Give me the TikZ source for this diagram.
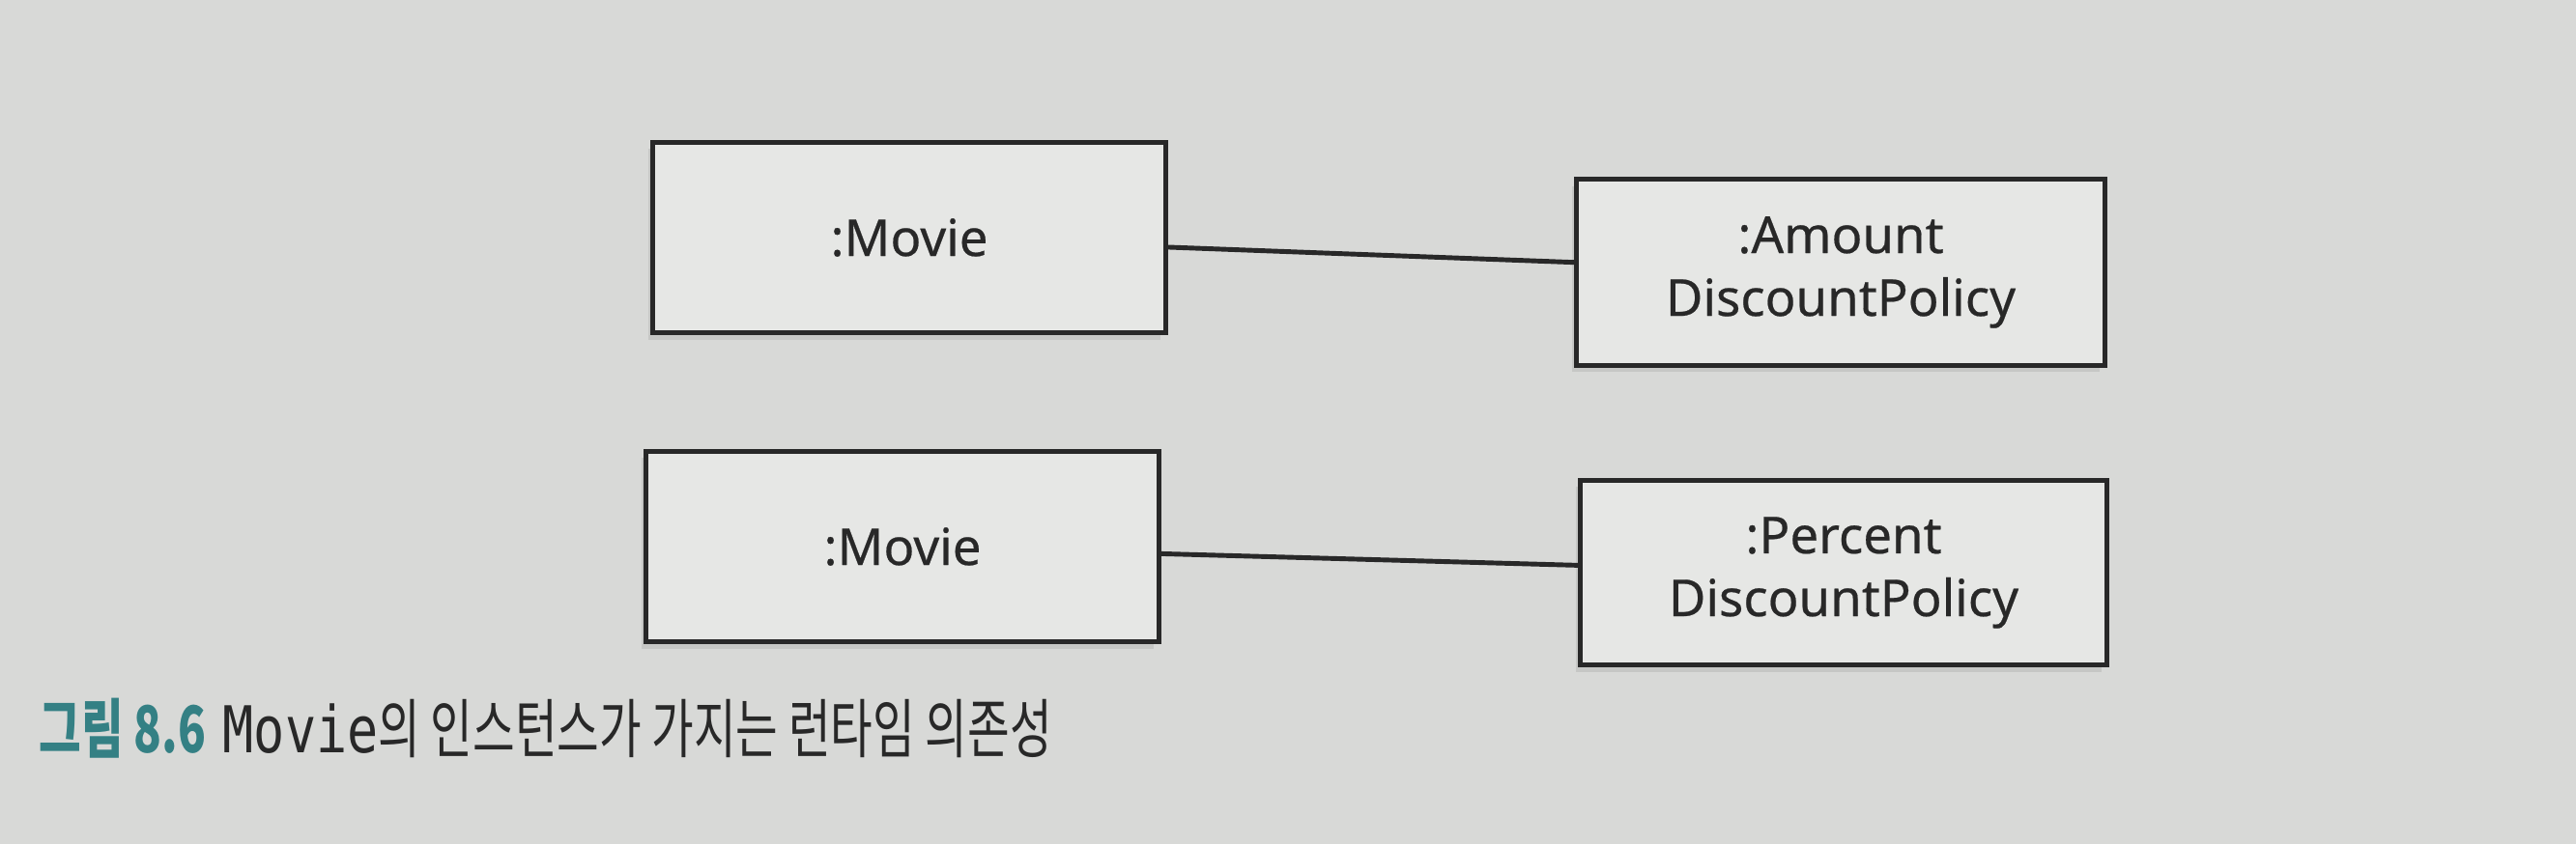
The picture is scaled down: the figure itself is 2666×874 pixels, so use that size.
\documentclass[tikz,border=0pt]{standalone}
\usepackage{fontspec}
\setmainfont{Noto Sans}
\newfontfamily\boxfont[FakeBold=0.4]{Noto Sans}
\newfontfamily\cjk[FakeStretch=0.71]{Noto Sans CJK KR}
\newfontfamily\capmono[FakeStretch=0.8]{DejaVu Sans Mono}
\usetikzlibrary{shadows}
\definecolor{pagegray}{RGB}{216,217,215}
\definecolor{boxfill}{RGB}{230,231,229}
\definecolor{inkgray}{RGB}{40,40,40}
\definecolor{capteal}{RGB}{52,128,132}

\begin{document}
\begin{tikzpicture}
  [x=0.01cm,y=-0.01cm,
   obj/.style={draw=inkgray,line width=1.4pt,fill=boxfill,text=inkgray,
     align=center,inner sep=0pt,font=\boxfont\fontsize{15}{18.5}\selectfont,
     drop shadow={shadow xshift=-1.5pt,shadow yshift=-2pt,opacity=0.2}},
   link/.style={draw=inkgray,line width=1.4pt}]
  \fill[pagegray] (0,0) rectangle (2666,874);
  \useasboundingbox (0,0) rectangle (2666,874);

  \node[obj,minimum width=5.30cm,minimum height=1.97cm] (m1) at (941,246) {:Movie};
  \node[obj,minimum width=5.46cm,minimum height=1.92cm] (d1) at (1905,282) {:Amount\\DiscountPolicy};
  \node[obj,minimum width=5.30cm,minimum height=1.97cm] (m2) at (934,566) {:Movie};
  \node[obj,minimum width=5.44cm,minimum height=1.91cm] (d2) at (1908,593) {:Percent\\DiscountPolicy};

  \foreach \from/\to in {m1/d1,m2/d2}
    \draw[link] (\from) -- (\to);

  % caption
  \node[anchor=base west,inner sep=0pt,text=inkgray,font=\fontsize{19}{22}\selectfont] (cap) at (40,780)
    {{\cjk\bfseries\color{capteal}그림 8.6} {\capmono Movie}\cjk 의 인스턴스가 가지는 런타임 의존성};
\end{tikzpicture}
\end{document}
